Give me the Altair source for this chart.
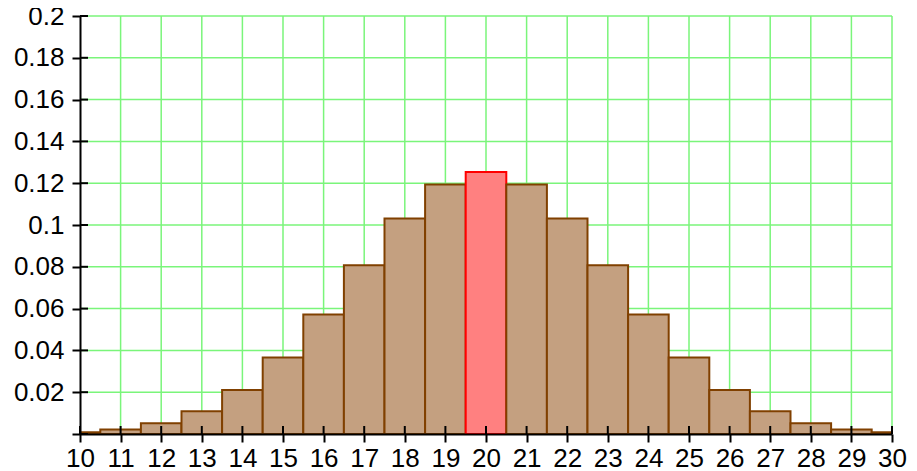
import altair as alt
import pandas as pd

# data
ks = list(range(10, 31))
probs = [0.0008, 0.0021, 0.0051, 0.0109, 0.0211, 0.0366, 0.0572, 0.0807, 0.1031, 0.1194,
         0.1254,
         0.1194, 0.1031, 0.0807, 0.0572, 0.0366, 0.0211, 0.0109, 0.0051, 0.0021, 0.0008]
highlight_k = 20
x_ticks = list(range(10, 31))
y_ticks = [0, 0.02, 0.04, 0.06, 0.08, 0.1, 0.12, 0.14, 0.16, 0.18, 0.2]

W, H = 812, 418
FONT = "Liberation Sans"
FS = 26
GRID = "#7af57a"

bars = pd.DataFrame({
    "x0": [k - 0.5 for k in ks],
    "x1": [k + 0.5 for k in ks],
    "p": probs,
    "hl": ["h" if k == highlight_k else "n" for k in ks],
})
xgrid = pd.DataFrame({"v": x_ticks[1:]})
ygrid = pd.DataFrame({"v": y_ticks[1:]})
xt = pd.DataFrame({"v": x_ticks})
yt = pd.DataFrame({"v": y_ticks})

xs = alt.Scale(domain=[10, 30], nice=False, zero=False)
ys = alt.Scale(domain=[0, 0.2], nice=False, zero=False)

x_axis = alt.Axis(values=x_ticks, title=None, grid=False, domainColor="black", domainWidth=2,
                  tickColor="black", tickWidth=2, tickSize=8, labelFont=FONT, labelFontSize=FS,
                  labelColor="black", labelPadding=3, labelFlush=False, labelOverlap=False, zindex=2)
y_axis = alt.Axis(values=y_ticks, title=None, grid=False, domainColor="black", domainWidth=2,
                  tickColor="black", tickWidth=2, tickSize=8, labelFont=FONT, labelFontSize=FS,
                  labelColor="black", labelPadding=8, labelFlush=False, labelOverlap=False,
                  labelExpr="datum.value == 0 ? '' : format(datum.value, '~g')", zindex=2)

grid_x = alt.Chart(xgrid).mark_rule(color=GRID, strokeWidth=1.5).encode(
    x=alt.X("v:Q", scale=xs, axis=x_axis), y=alt.value(0), y2=alt.value(H))
grid_y = alt.Chart(ygrid).mark_rule(color=GRID, strokeWidth=1.5).encode(
    y=alt.Y("v:Q", scale=ys, axis=y_axis), x=alt.value(0), x2=alt.value(W))

bar_layer = alt.Chart(bars).mark_rect(clip=True, strokeWidth=2).encode(
    x=alt.X("x0:Q", scale=xs, axis=x_axis),
    x2="x1:Q",
    y=alt.Y("p:Q", scale=ys, axis=y_axis),
    y2=alt.datum(0),
    fill=alt.Fill("hl:N", scale=alt.Scale(domain=["n", "h"], range=["#C4A080", "#FF8080"]), legend=None),
    stroke=alt.Stroke("hl:N", scale=alt.Scale(domain=["n", "h"], range=["#804000", "#FF0000"]), legend=None),
)

tick_x = alt.Chart(xt).mark_rule(color="black", strokeWidth=2).encode(
    x=alt.X("v:Q", scale=xs, axis=x_axis), y=alt.value(H - 8), y2=alt.value(H))
tick_y = alt.Chart(yt).mark_rule(color="black", strokeWidth=2).encode(
    y=alt.Y("v:Q", scale=ys, axis=y_axis), x=alt.value(0), x2=alt.value(8))

chart = alt.layer(grid_x, grid_y, bar_layer, tick_x, tick_y).properties(
    width=W, height=H,
    autosize=alt.AutoSizeParams(type="none"),
    padding={"left": 72, "top": 8, "right": 17, "bottom": 33},
    background="white",
).configure_view(stroke=None)

chart.save("out.html", embed_options={"renderer": "svg", "actions": False})
